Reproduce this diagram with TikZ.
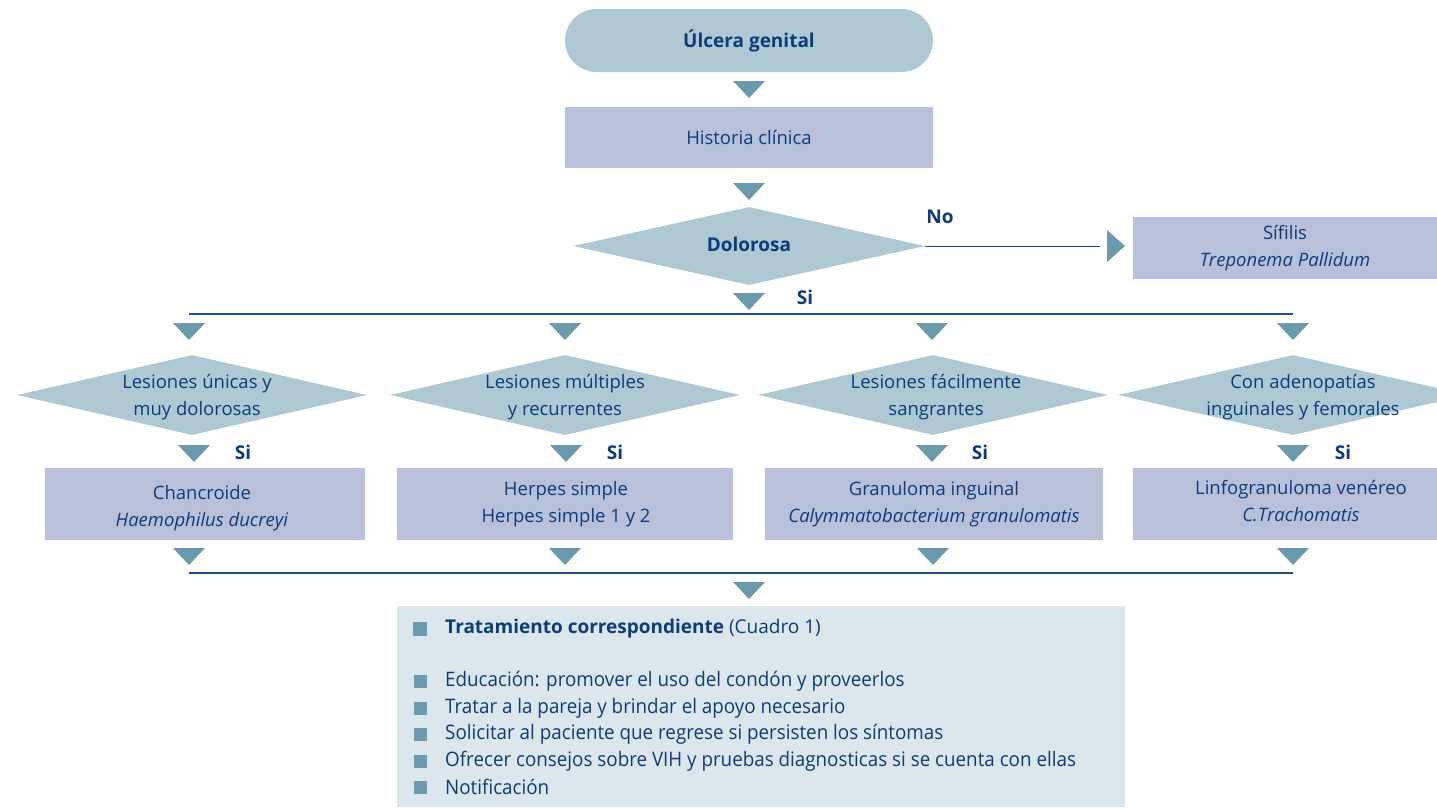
\documentclass[tikz,border=0pt]{standalone}
\usepackage{fontspec}
\setmainfont{Open Sans}
\newfontfamily\condfont[FakeStretch=0.94]{Open Sans}
\usetikzlibrary{shapes.geometric,calc}
\definecolor{txtc}{HTML}{0E3C7A}
\definecolor{diac}{HTML}{AEC8D4}
\definecolor{boxc}{HTML}{B8C0DA}
\definecolor{arrc}{HTML}{6B9AAD}
\definecolor{linec}{HTML}{1F4E8C}
\definecolor{listc}{HTML}{DBE7ED}
\tikzset{
  lbl/.style={text=txtc, font=\fontsize{18.5}{27}\selectfont, align=center, inner sep=0},
  boldlbl/.style={lbl, font=\fontsize{19}{27}\selectfont\bfseries},
  stad/.style={fill=diac, draw=none, rounded corners=31.5pt, minimum width=368, minimum height=63},
  boxnode/.style={fill=boxc, draw=none, minimum height=72, inner sep=0},
  dia/.style={shape=diamond, fill=diac, draw=none, inner sep=0, minimum width=350, minimum height=80},
  bus/.style={draw=linec, line width=1.3pt},
  arrfill/.style={fill=arrc, draw=none},
  bullet/.style={fill=arrc, draw=none, minimum size=13, inner sep=0},
}
\newcommand\darr[1]{\fill[arrfill] (#1) ++(-16,0) -- ++(32,0) -- ++(-16,17) -- cycle;}
\begin{document}
\begin{tikzpicture}[x=1pt,y=-1pt]
\useasboundingbox (0,0) rectangle (1437,807);
% top
\node[stad] (ulc) at (749,40.5) {};
\node[boldlbl] at (ulc) {Úlcera genital};
\coordinate (a1) at (749,81); \darr{a1}
\node[boxnode, minimum width=368, minimum height=61] (hc) at (749,137.5) {};
\node[lbl] at (hc) {Historia clínica};
\coordinate (a2) at (749,183); \darr{a2}
\node[dia, minimum width=352, minimum height=78] (dol) at (749,246) {};
\node[boldlbl] at (749,244) {Dolorosa};
% No branch
\node[boxnode, minimum width=304, minimum height=62] (sif) at (1285,248) {};
\node[lbl] at (sif) {Sífilis\\\textit{Treponema Pallidum}};
\coordinate (rt) at (1107,246);
\draw[draw=linec, line width=1pt] (dol.east) -- ($(rt)+(-7,0)$);
\fill[arrfill] (rt) ++(0,-16) -- ++(18,16) -- ++(-18,16) -- cycle;
\node[boldlbl] (no) at (940,217) {No};
% Si branch
\coordinate (a3) at (749,293); \darr{a3}
\node[boldlbl] (si0) at (805,297) {Si};
\coordinate (busL) at (189,314);
\coordinate (busR) at (1293,314);
\draw[bus] (busL) -- (busR);
% columns
\foreach \i/\dx/\tx/\bx/\bw/\sx/\ax/\cx in {1/192/189/205/320/243/194/189,2/565/565/565/336/615/566/565,3/933/932/934/338/980/932/933,4/1293/1293/1285/304/1343/1293/1293}{
  \coordinate (t\i) at (\tx,323); \darr{t\i}
  \node[dia] (d\i) at (\dx,395) {};
  \coordinate (s\i) at (\ax,445); \darr{s\i}
  \node[boldlbl] (si\i) at (\sx,452) {Si};
  \node[boxnode, minimum width=\bw] (b\i) at (\bx,504) {};
  \coordinate (u\i) at (\cx,548); \darr{u\i}
}
\node[lbl] at ($(d1)+(5,2)$) {Lesiones únicas y\\muy dolorosas};
\node[lbl] at ($(d2)+(0,2)$) {Lesiones múltiples\\y recurrentes};
\node[lbl] at ($(d3)+(3,2)$) {Lesiones fácilmente\\sangrantes};
\node[lbl] at ($(d4)+(10,2)$) {Con adenopatías\\inguinales y femorales};
\node[lbl] at ($(b1)+(-3,4)$) {Chancroide\\\textit{Haemophilus ducreyi}};
\node[lbl] at ($(b2)+(1,0)$) {Herpes simple\\Herpes simple 1 y 2};
\node[lbl] at ($(b3)+(0,0)$) {Granuloma inguinal\\\textit{Calymmatobacterium granulomatis}};
\node[lbl] at ($(b4)+(16,-3)$) {Linfogranuloma venéreo\\\textit{C.Trachomatis}};
\coordinate (bus2L) at (189,573);
\coordinate (bus2R) at (1293,573);
\draw[bus] (bus2L) -- (bus2R);
\coordinate (a4) at (749,582); \darr{a4}
% bottom list
\node[fill=listc, draw=none, minimum width=728, minimum height=201, inner sep=0] (lst) at (761,706.5) {};
\node[bullet, minimum size=14] at (420,629) {};
\node[lbl, anchor=west, font=\fontsize{19}{27}\selectfont] at (445,629) {\textbf{Tratamiento correspondiente} (Cuadro 1)};
\foreach \y/\t in {681/{Educación: promover el uso del condón y proveerlos},708/{Tratar a la pareja y brindar el apoyo necesario},734/{Solicitar al paciente que regrese si persisten los síntomas},761/{Ofrecer consejos sobre VIH y pruebas diagnosticas si se cuenta con ellas},787/{Notificación}}{
  \node[bullet] at (420,\y) {};
  \node[lbl, anchor=west, font=\fontsize{20}{27}\condfont] at (445,\y) {\t};
}
\end{tikzpicture}
\end{document}
